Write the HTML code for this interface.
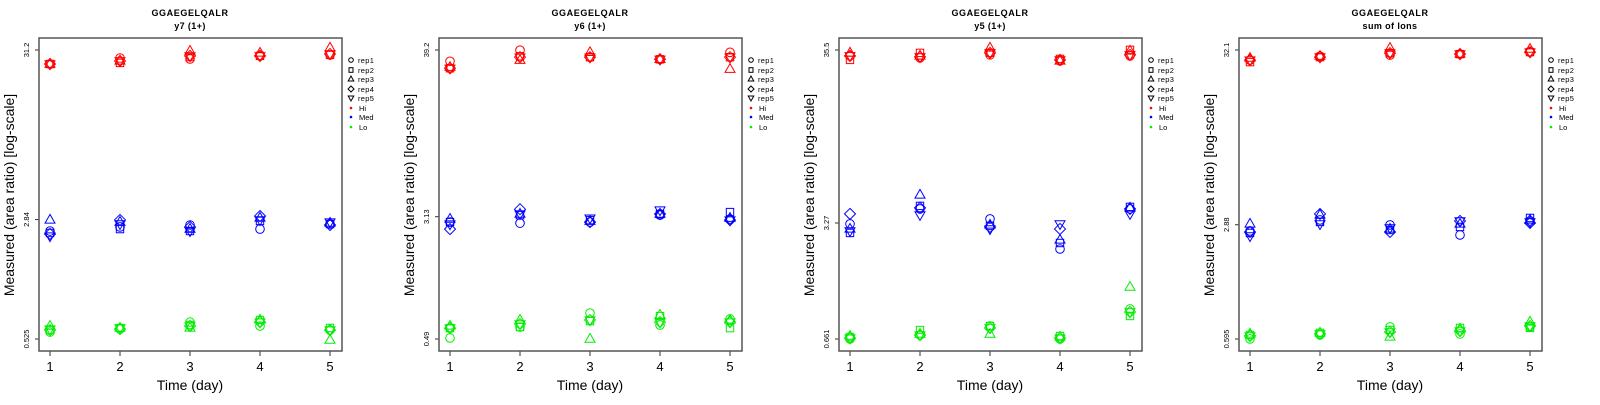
<!DOCTYPE html>
<html><head><meta charset="utf-8"><style>
body{margin:0;background:#fff;width:1600px;height:400px;overflow:hidden}
svg text{font-family:"Liberation Sans",sans-serif}
</style></head><body>
<svg id="chart" width="1600" height="400" xmlns="http://www.w3.org/2000/svg"></svg>
<script>
// ---- data (log10 of measured area ratio), per panel: [day][rep] ----
const days = [1,2,3,4,5];
const reps = ["rep1","rep2","rep3","rep4","rep5"];
const panelTitles = ["y7 (1+)","y6 (1+)","y5 (1+)","sum of Ions"];
const tickLabels = [["0.525","2.84","31.2"],["0.49","3.13","39.2"],["0.661","3.27","35.5"],["0.595","2.88","32.1"]];
const tickValues = [[0.525,2.84,31.2],[0.49,3.13,39.2],[0.661,3.27,35.5],[0.595,2.88,32.1]];

const p1Hi = [[1.408,1.408,1.408,1.408,1.408],[1.445,1.415,1.427,1.427,1.427],[1.439,1.451,1.488,1.458,1.458],[1.458,1.458,1.476,1.458,1.458],[1.464,1.464,1.507,1.470,1.470]];
const p1Med = [[0.383,0.371,0.451,0.365,0.352],[0.408,0.395,0.438,0.451,0.426],[0.420,0.383,0.395,0.408,0.383],[0.395,0.445,0.463,0.475,0.451],[0.426,0.426,0.432,0.420,0.438]];
const p1Lo = [[-0.237,-0.225,-0.200,-0.225,-0.219],[-0.219,-0.212,-0.212,-0.219,-0.212],[-0.176,-0.194,-0.212,-0.200,-0.200],[-0.200,-0.163,-0.163,-0.176,-0.176],[-0.225,-0.212,-0.286,-0.225,-0.225]];

const p2Hi = [[1.519,1.473,1.480,1.473,1.473],[1.592,1.552,1.526,1.546,1.546],[1.546,1.546,1.578,1.546,1.546],[1.532,1.532,1.532,1.532,1.532],[1.578,1.546,1.467,1.546,1.546]];
const p2Med = [[0.460,0.460,0.480,0.414,0.447],[0.453,0.506,0.513,0.545,0.513],[0.460,0.473,0.466,0.460,0.486],[0.506,0.513,0.513,0.513,0.539],[0.480,0.526,0.486,0.473,0.473]];
const p2Lo = [[-0.303,-0.238,-0.224,-0.238,-0.238],[-0.231,-0.231,-0.185,-0.211,-0.211],[-0.139,-0.192,-0.310,-0.185,-0.185],[-0.218,-0.159,-0.152,-0.198,-0.198],[-0.178,-0.238,-0.185,-0.198,-0.198]];

const p3Hi = [[1.515,1.491,1.533,1.515,1.515],[1.503,1.533,1.515,1.509,1.509],[1.521,1.533,1.563,1.533,1.533],[1.485,1.497,1.485,1.491,1.491],[1.515,1.551,1.545,1.521,1.521]];
const p3Med = [[0.509,0.455,0.479,0.569,0.467],[0.599,0.617,0.683,0.605,0.563],[0.539,0.497,0.503,0.491,0.479],[0.359,0.395,0.413,0.479,0.509],[0.599,0.611,0.605,0.599,0.569]];
const p3Lo = [[-0.180,-0.168,-0.162,-0.174,-0.174],[-0.156,-0.126,-0.150,-0.156,-0.156],[-0.102,-0.102,-0.150,-0.114,-0.114],[-0.180,-0.162,-0.168,-0.174,-0.174],[0.000,-0.042,0.131,-0.018,-0.018]];

const p4Hi = [[1.446,1.434,1.458,1.446,1.446],[1.470,1.464,1.470,1.464,1.464],[1.476,1.488,1.518,1.488,1.488],[1.482,1.482,1.482,1.482,1.482],[1.494,1.494,1.512,1.494,1.494]];
const p4Med = [[0.422,0.410,0.464,0.416,0.392],[0.488,0.476,0.518,0.524,0.464],[0.458,0.428,0.434,0.416,0.440],[0.398,0.446,0.464,0.482,0.482],[0.482,0.500,0.488,0.470,0.476]];
const p4Lo = [[-0.225,-0.201,-0.195,-0.207,-0.207],[-0.201,-0.189,-0.189,-0.195,-0.195],[-0.153,-0.171,-0.213,-0.183,-0.183],[-0.195,-0.159,-0.165,-0.177,-0.177],[-0.153,-0.159,-0.123,-0.147,-0.147]];

const panelData = [[p1Hi,p1Med,p1Lo],[p2Hi,p2Med,p2Lo],[p3Hi,p3Med,p3Lo],[p4Hi,p4Med,p4Lo]];
const groupNames = ["Hi","Med","Lo"];
const groupColors = ["#ff0000","#0000ff","#00ee00"];

const NS="http://www.w3.org/2000/svg";
const svg=document.getElementById('chart');
function mk(tag,attrs,parent){const e=document.createElementNS(NS,tag);for(const k in attrs)e.setAttribute(k,attrs[k]);(parent||svg).appendChild(e);return e;}
function marker(g,shape,cx,cy,color){
  let e;const s=4.3;
  if(shape===0) e=mk('circle',{cx:cx,cy:cy,r:s,fill:'none',stroke:color},g);
  else if(shape===1) e=mk('rect',{x:cx-3.7,y:cy-3.7,width:7.4,height:7.4,fill:'none',stroke:color},g);
  else if(shape===2) e=mk('polygon',{points:`${cx},${cy-5.5} ${cx-5},${cy+3.2} ${cx+5},${cy+3.2}`,fill:'none',stroke:color},g);
  else if(shape===3) e=mk('polygon',{points:`${cx},${cy-5.5} ${cx+5.5},${cy} ${cx},${cy+5.5} ${cx-5.5},${cy}`,fill:'none',stroke:color},g);
  else e=mk('polygon',{points:`${cx},${cy+5.5} ${cx-5},${cy-3.2} ${cx+5},${cy-3.2}`,fill:'none',stroke:color},g);
  return e;
}
for(let p=0;p<4;p++){
  const ox=p*400;
  const g=mk('g',{transform:`translate(${ox},0)`});
  
  
  const lo=Math.log10(tickValues[p][0]), hi=Math.log10(tickValues[p][2]);
  const yS=v=>339-(v-lo)/(hi-lo)*289;
  const xS=d=>50+(d-1)*70;
  let t=mk('text',{x:190,y:16,'text-anchor':'middle','font-size':9,'font-weight':'bold','letter-spacing':'0.6'},g);t.textContent='GGAEGELQALR';
  
  t=mk('text',{x:190,y:29,'text-anchor':'middle','font-size':9,'font-weight':'bold','letter-spacing':'0.4'},g);t.textContent=panelTitles[p];
  
  // y ticks
  for(let i=0;i<3;i++){
    const y=yS(Math.log10(tickValues[p][i]));
    const l=mk('line',{x1:35,x2:39,y1:y,y2:y,stroke:'#333'},g);
    
    const tt=mk('text',{x:0,y:0,transform:`translate(29,${y}) rotate(-90)`,'text-anchor':'middle','font-size':7.5},g);
    tt.textContent=tickLabels[p][i];
    
  }
  for(const d of days){
    const x=xS(d);
    const l=mk('line',{x1:x,x2:x,y1:351,y2:356,stroke:'#333'},g);
    
    const tt=mk('text',{x:x,y:371,'text-anchor':'middle','font-size':13},g);tt.textContent=d;
    
  }
  t=mk('text',{x:190,y:390,'text-anchor':'middle','font-size':14},g);t.textContent='Time (day)';
  
  t=mk('text',{x:0,y:0,transform:'translate(14,195) rotate(-90)','text-anchor':'middle','font-size':14},g);t.textContent='Measured (area ratio) [log-scale]';
  
  // points
  for(let gi=0;gi<3;gi++){
    const arr=panelData[p][gi];
    for(let di=0;di<days.length;di++){
      for(let r=0;r<reps.length;r++){
        const m=marker(g,r,xS(days[di]),yS(arr[di][r]),groupColors[gi]);
        
        
      }
    }
  }
  const box=mk('rect',{x:39,y:38,width:303,height:313,fill:'none',stroke:'#555','stroke-width':1.5},g);
  
  // legend
  const lg=mk('g',{},g);
  
  const rowsY=[60,70,79,89,98,108,117,127];
  for(let r=0;r<5;r++){
    const cx=351,cy=rowsY[r];
    let e;
    if(r===0) e=mk('circle',{cx:cx,cy:cy,r:2.3,fill:'none',stroke:'#000'},lg);
    else if(r===1) e=mk('rect',{x:cx-2,y:cy-2.3,width:4,height:4.6,fill:'none',stroke:'#000'},lg);
    else if(r===2) e=mk('polygon',{points:`${cx},${cy-3} ${cx-2.8},${cy+2} ${cx+2.8},${cy+2}`,fill:'none',stroke:'#000'},lg);
    else if(r===3) e=mk('polygon',{points:`${cx},${cy-3} ${cx+3},${cy} ${cx},${cy+3} ${cx-3},${cy}`,fill:'none',stroke:'#000'},lg);
    else e=mk('polygon',{points:`${cx},${cy+3} ${cx-2.8},${cy-2} ${cx+2.8},${cy-2}`,fill:'none',stroke:'#000'},lg);
    
    const tt=mk('text',{x:358,y:cy+3,'font-size':7.5,'letter-spacing':'0.3'},lg);tt.textContent=reps[r];
    
  }
  for(let gi=0;gi<3;gi++){
    const cy=rowsY[5+gi];
    const c=mk('circle',{cx:351,cy:cy,r:1.3,fill:groupColors[gi]},lg);
    
    const tt=mk('text',{x:359,y:cy+3,'font-size':7.5},lg);tt.textContent=groupNames[gi];
    
  }
}
</script>
</body></html>
